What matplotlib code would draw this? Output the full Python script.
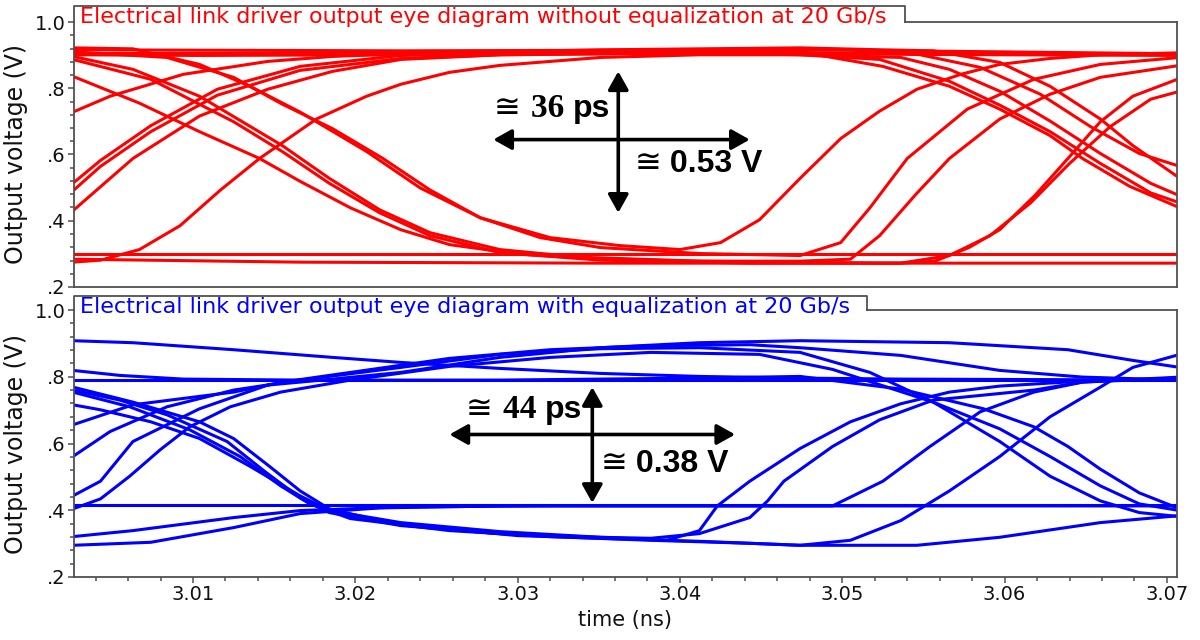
import matplotlib
matplotlib.use("Agg")
import matplotlib.pyplot as plt
from matplotlib.lines import Line2D
from matplotlib.ticker import MultipleLocator, FuncFormatter

# ---------------- time window (ns) and voltage range (V) ----------------
T_START, T_END = 3.00267, 3.07062
V_MIN, V_MAX = 0.2, 1.0

# ---------------- eye without equalization (red) ----------------
red_levels = [0.907, 0.301]   # long-run high / low levels

red_fall_left = [
    ([3.0026, 3.0063, 3.0104, 3.0135, 3.0166, 3.0207, 3.0240, 3.0277, 3.0320, 3.0363, 3.0400,
      3.0425, 3.0449, 3.0474, 3.0499, 3.0523, 3.0546, 3.0573, 3.0597, 3.0628, 3.0659, 3.0708],
     [.922, .919, .872, .806, .728, .609, .499, .409, .349, .325, .313,
      .334, .403, .528, .648, .731, .797, .842, .872, .890, .901, .907]),
    ([3.0026, 3.0084, 3.0125, 3.0155, 3.0186, 3.0217, 3.0246, 3.0277, 3.0314, 3.0351, 3.0412,
      3.0474, 3.0499, 3.0517, 3.0540, 3.0577, 3.0618, 3.0659, 3.0708],
     [.910, .893, .833, .752, .678, .588, .493, .409, .349, .319, .301,
      .295, .334, .439, .588, .737, .827, .872, .893]),
    ([3.0026, 3.0063, 3.0104, 3.0155, 3.0184, 3.0215, 3.0246, 3.0289, 3.0338, 3.0412, 3.0523, 3.0708],
     [.896, .857, .776, .627, .528, .433, .364, .313, .290, .278, .272, .272]),
    ([3.0026, 3.0074, 3.0125, 3.0155, 3.0184, 3.0215, 3.0246, 3.0289, 3.0351, 3.0443, 3.0536,
      3.0557, 3.0578, 3.0597, 3.0619, 3.0639, 3.0659, 3.0679, 3.0708],
     [.887, .827, .699, .609, .513, .424, .355, .304, .281, .272, .272,
      .278, .319, .373, .478, .588, .699, .776, .830]),
    ([3.0026, 3.0067, 3.0104, 3.0141, 3.0166, 3.0197, 3.0228, 3.0258, 3.0301, 3.0351, 3.0412,
      3.0474, 3.0505, 3.0523, 3.0545, 3.0566, 3.0597, 3.0628, 3.0659, 3.0708],
     [.836, .755, .669, .588, .519, .439, .373, .328, .299, .284, .278,
      .278, .284, .355, .478, .588, .707, .782, .833, .869]),
]

red_rise_left = [
    ([3.0026, 3.0049, 3.0094, 3.0146, 3.0186, 3.0228, 3.0289, 3.0351, 3.0412, 3.0474, 3.0525,
      3.0556, 3.0597, 3.0628, 3.0659, 3.0679, 3.0708],
     [.728, .776, .842, .881, .896, .904, .910, .916, .919, .922, .916,
      .913, .878, .806, .707, .627, .528]),
    ([3.0026, 3.0043, 3.0074, 3.0115, 3.0166, 3.0228, 3.0289, 3.0351, 3.0412, 3.0474, 3.0525,
      3.0566, 3.0597, 3.0628, 3.0648, 3.0677, 3.0708],
     [.513, .582, .687, .797, .866, .899, .907, .910, .913, .910, .866,
      .806, .737, .657, .588, .504, .439]),
    ([3.0026, 3.0043, 3.0074, 3.0115, 3.0166, 3.0228, 3.0289, 3.0351, 3.0474, 3.0597, 3.0708],
     [.490, .564, .669, .779, .854, .890, .901, .904, .904, .901, .899]),
    ([3.0026, 3.0063, 3.0104, 3.0146, 3.0186, 3.0228, 3.0289, 3.0351, 3.0412, 3.0474, 3.0523,
      3.0566, 3.0597, 3.0628, 3.0659, 3.0690, 3.0708],
     [.430, .588, .716, .797, .851, .887, .901, .904, .907, .901, .887,
      .821, .749, .669, .573, .484, .454]),
    ([3.0026, 3.0043, 3.0067, 3.0092, 3.0117, 3.0141, 3.0176, 3.0207, 3.0228, 3.0258, 3.0289,
      3.0351, 3.0412, 3.0474, 3.0536, 3.0566, 3.0597, 3.0628, 3.0659, 3.0690, 3.0708],
     [.275, .281, .313, .385, .493, .588, .707, .776, .812, .848, .869,
      .893, .901, .901, .893, .857, .791, .701, .603, .513, .475]),
]

red_steady = [
    ([3.0026, 3.0228, 3.0474, 3.0597, 3.0708],
     [.916, .913, .916, .910, .904]),
    ([3.0026, 3.0104, 3.0228, 3.0412, 3.0505, 3.0548, 3.0585, 3.0622, 3.0653, 3.0683, 3.0708],
     [.901, .899, .901, .910, .916, .901, .863, .782, .684, .603, .564]),
    ([3.0026, 3.0166, 3.0351, 3.0536, 3.0566, 3.0591, 3.0616, 3.0640, 3.0665, 3.0690, 3.0708],
     [.284, .275, .272, .272, .295, .355, .454, .573, .684, .767, .791]),
]

# ---------------- eye with equalization (blue) ----------------
blue_levels = [0.790, 0.416]  # de-emphasized high / low levels

blue_fall_left = [
    ([3.0026, 3.0063, 3.0104, 3.0125, 3.0147, 3.0166, 3.0184, 3.0215, 3.0248, 3.0300, 3.0351,
      3.0412, 3.0474, 3.0546, 3.0597, 3.0659, 3.0708],
     [.769, .724, .665, .615, .532, .458, .404, .369, .348, .324, .316,
      .307, .295, .295, .319, .363, .384]),
    ([3.0026, 3.0055, 3.0084, 3.0121, 3.0144, 3.0166, 3.0184, 3.0228, 3.0289, 3.0351, 3.0382,
      3.0412, 3.0443, 3.0454, 3.0464, 3.0494, 3.0523, 3.0556, 3.0618, 3.0648, 3.0708],
     [.760, .730, .686, .606, .517, .437, .393, .354, .330, .319, .316,
      .330, .378, .428, .487, .591, .671, .730, .760, .784, .796]),
    ([3.0026, 3.0043, 3.0074, 3.0104, 3.0135, 3.0166, 3.0184, 3.0228, 3.0289, 3.0351, 3.0392,
      3.0412, 3.0423, 3.0443, 3.0474, 3.0505, 3.0536, 3.0566, 3.0597, 3.0648, 3.0708],
     [.716, .701, .665, .615, .532, .443, .399, .363, .336, .319, .310,
      .339, .413, .487, .585, .665, .719, .754, .772, .787, .796]),
    ([3.0026, 3.0061, 3.0098, 3.0129, 3.0154, 3.0172, 3.0197, 3.0258, 3.0320, 3.0382, 3.0443,
      3.0474, 3.0505, 3.0536, 3.0566, 3.0597, 3.0628, 3.0659, 3.0679, 3.0708],
     [.754, .710, .641, .561, .473, .419, .375, .339, .321, .310, .301,
      .295, .310, .369, .458, .561, .680, .769, .828, .867]),
]

blue_low_start = [
    ([3.0026, 3.0063, 3.0125, 3.0166, 3.0228, 3.0320, 3.0708],
     [.321, .339, .378, .399, .410, .413, .413]),
    ([3.0026, 3.0074, 3.0125, 3.0166, 3.0215, 3.0289, 3.0351, 3.0494, 3.0525, 3.0554, 3.0585,
      3.0618, 3.0648, 3.0708],
     [.295, .304, .348, .390, .407, .413, .413, .413, .487, .591, .695,
      .754, .784, .799]),
]

blue_rise_left = [
    ([3.0026, 3.0063, 3.0125, 3.0155, 3.0197, 3.0258, 3.0320, 3.0382, 3.0443, 3.0474, 3.0536,
      3.0597, 3.0648, 3.0708],
     [.656, .716, .754, .784, .813, .855, .881, .893, .896, .887, .864,
      .819, .799, .790]),
    ([3.0026, 3.0043, 3.0063, 3.0104, 3.0146, 3.0186, 3.0228, 3.0289, 3.0351, 3.0412, 3.0474,
      3.0566, 3.0639, 3.0679, 3.0708],
     [.443, .487, .606, .704, .775, .793, .813, .858, .887, .902, .908,
      .902, .881, .849, .828]),
    ([3.0026, 3.0049, 3.0084, 3.0125, 3.0166, 3.0228, 3.0289, 3.0351, 3.0412, 3.0474, 3.0517,
      3.0556, 3.0597, 3.0628, 3.0659, 3.0683, 3.0708],
     [.561, .636, .710, .760, .790, .828, .867, .884, .887, .873, .813,
      .724, .606, .502, .428, .393, .381]),
    ([3.0026, 3.0043, 3.0061, 3.0080, 3.0098, 3.0123, 3.0154, 3.0197, 3.0258, 3.0320, 3.0382,
      3.0449, 3.0494, 3.0556, 3.0597, 3.0628, 3.0659, 3.0683, 3.0708],
     [.404, .434, .502, .582, .650, .710, .754, .790, .831, .858, .873,
      .867, .822, .724, .644, .561, .473, .419, .399]),
]

blue_high_start = [
    ([3.0026, 3.0063, 3.0125, 3.0186, 3.0228, 3.0289, 3.0351, 3.0412, 3.0474, 3.0536, 3.0708],
     [.908, .902, .881, .858, .843, .825, .810, .801, .796, .793, .790]),
    ([3.0026, 3.0055, 3.0094, 3.0166, 3.0289, 3.0412, 3.0474, 3.0536, 3.0587, 3.0618, 3.0639,
      3.0659, 3.0683, 3.0708],
     [.819, .804, .793, .790, .790, .796, .801, .763, .704, .650, .591,
      .523, .452, .404]),
]

# ---------------- eye opening annotations ----------------
red_eye = dict(width="36 ps", height="0.53 V",
               h_arrow=(3.0285, 3.0443, 0.645), v_arrow=(3.0362, 0.851, 0.424),
               width_at=(3.0357, 0.737), height_at=(3.0372, 0.573))
blue_eye = dict(width="44 ps", height="0.38 V",
                h_arrow=(3.0258, 3.0434, 0.627), v_arrow=(3.0346, 0.769, 0.422),
                width_at=(3.0340, 0.701), height_at=(3.0351, 0.541))

titles = ["Electrical link driver output eye diagram without equalization at 20 Gb/s",
          "Electrical link driver output eye diagram with equalization at 20 Gb/s"]

RED, BLUE = "#ff0000", "#0000ff"
SPINE = "#505050"
INK = "#111111"
SANS = ["Liberation Sans", "DejaVu Sans"]
SERIF = ["Liberation Serif", "DejaVu Serif"]
SYMBOL = ["DejaVu Sans"]
TRACE_LW = 2.2
W, H = 1200, 640

fig = plt.figure(figsize=(12, 6.4), dpi=100)


def frame(x0, y0, x1, y1):
    return [x0 / W, 1 - y1 / H, (x1 - x0) / W, (y1 - y0) / H]


ax_top = fig.add_axes(frame(74, 22, 1177, 287))
ax_bot = fig.add_axes(frame(74, 310, 1177, 577))


def style_axes(ax, show_x):
    ax.set_xlim(T_START, T_END)
    ax.set_ylim(V_MIN, V_MAX)
    ax.yaxis.set_major_locator(MultipleLocator(0.2))
    ax.yaxis.set_minor_locator(MultipleLocator(0.04))
    ax.yaxis.set_major_formatter(
        FuncFormatter(lambda v, _: "1.0" if v > 0.99 else f"{v:.1f}"[1:]))
    ax.xaxis.set_major_locator(MultipleLocator(0.01))
    ax.xaxis.set_minor_locator(MultipleLocator(0.002))
    ax.xaxis.set_major_formatter(FuncFormatter(lambda v, _: f"{v:.2f}"))
    ax.tick_params(which="both", direction="out", color=SPINE, width=1.1,
                   labelsize=14, labelcolor=INK, pad=1.5)
    ax.tick_params(which="major", length=4.5)
    ax.tick_params(which="minor", length=3)
    ax.tick_params(axis="y", which="both", left=True, right=False)
    ax.tick_params(axis="x", which="both", top=False, bottom=show_x, labelbottom=show_x)
    for s in ax.spines.values():
        s.set_color(SPINE)
        s.set_linewidth(1.3)
    ax.set_ylabel("Output voltage (V)", fontsize=17, color=INK)
    ax.yaxis.set_label_coords(-0.042, 0.5)


def draw_eye(ax, levels, groups, color):
    for lv in levels:
        ax.plot([T_START - 0.001, T_END + 0.001], [lv, lv], color=color, lw=TRACE_LW)
    for group in groups:
        for t, v in group:
            ax.plot(t, v, color=color, lw=TRACE_LW, solid_joinstyle="round")


def title_tab(ax, x_right_px, y_top_px, y_frame_px, text, color):
    xl = 74 / W
    xr = x_right_px / W
    fig.add_artist(Line2D([xl, xl, xr, xr],
                          [1 - y_frame_px / H, 1 - y_top_px / H, 1 - y_top_px / H, 1 - y_frame_px / H],
                          color=SPINE, lw=1.3))
    fig.text(80 / W, 1 - (y_top_px + 11) / H, text, color=color, fontsize=16,
             ha="left", va="center")
    fig.canvas.draw()
    x_data = ax.transData.inverted().transform(fig.transFigure.transform((xr, 0)))[0]
    ax.spines["top"].set_bounds(x_data, T_END)


def eye_marks(ax, eye):
    kw = dict(arrowstyle="<|-|>,head_length=0.5,head_width=0.28", color="black",
              lw=2.6, shrinkA=0, shrinkB=0, mutation_scale=22)
    x0, x1, y = eye["h_arrow"]
    ax.annotate("", xy=(x1, y), xytext=(x0, y), arrowprops=kw)
    x, y0, y1 = eye["v_arrow"]
    ax.annotate("", xy=(x, y1), xytext=(x, y0), arrowprops=kw)

    # width label: "≅" + serif number + sans unit, laid out right to left
    wx, wy = eye["width_at"]
    num, unit = eye["width"].split()
    unit_txt = ax.text(wx, wy, unit, ha="right", va="center", fontsize=23,
                       fontweight="bold", family=SANS, color="black")
    num_txt = ax.annotate(num + " ", xy=(0, 0), xycoords=unit_txt, ha="right", va="bottom",
                          fontsize=24, fontweight="bold", family=SERIF, color="black")
    ax.annotate("\u2245 ", xy=(0, 0), xycoords=num_txt, ha="right", va="bottom",
                fontsize=23, family=SYMBOL, color="black")

    # height label: "≅" + sans value, laid out left to right
    hx, hy = eye["height_at"]
    sym = ax.text(hx, hy, "\u2245", ha="left", va="center", fontsize=23,
                  family=SYMBOL, color="black")
    ax.annotate(" " + eye["height"], xy=(1, 0), xycoords=sym, ha="left", va="bottom",
                fontsize=23, fontweight="bold", family=SANS, color="black")


style_axes(ax_top, show_x=False)
style_axes(ax_bot, show_x=True)
ax_bot.set_xlabel("time (ns)", fontsize=15, color=INK, labelpad=4)

draw_eye(ax_top, red_levels, [red_fall_left, red_rise_left, red_steady], RED)
draw_eye(ax_bot, blue_levels, [blue_fall_left, blue_low_start, blue_rise_left, blue_high_start], BLUE)

eye_marks(ax_top, red_eye)
eye_marks(ax_bot, blue_eye)

title_tab(ax_top, 905, 6, 22, titles[0], RED)
title_tab(ax_bot, 867, 296, 310, titles[1], BLUE)

fig.savefig("out.png", dpi=100)
